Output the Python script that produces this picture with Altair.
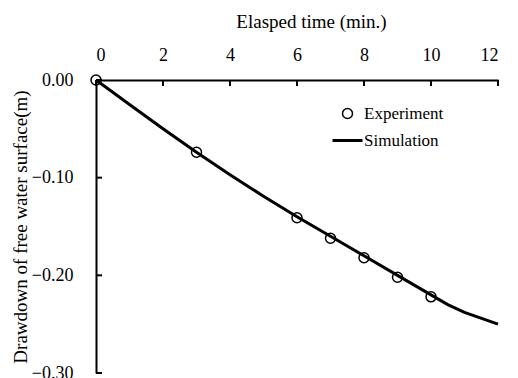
import altair as alt
import pandas as pd

# Experiment data
exp_time = [0, 3, 6, 7, 8, 9, 10]
exp_draw = [0.0, -0.074, -0.141, -0.162, -0.182, -0.202, -0.222]

# Simulation curve
sim_time = [0, 1, 2, 3, 4, 5, 6, 7, 8, 9, 10, 10.5, 11, 12]
sim_draw = [0.0, -0.025, -0.050, -0.074, -0.097, -0.119, -0.140, -0.160,
            -0.180, -0.200, -0.220, -0.230, -0.238, -0.250]

x_ticks = [0, 2, 4, 6, 8, 10, 12]
y_ticks = [0.0, -0.1, -0.2, -0.3]

exp_df = pd.DataFrame({"t": exp_time, "d": exp_draw, "series": ["Experiment"] * len(exp_time)})
sim_df = pd.DataFrame({"t": sim_time, "d": sim_draw, "series": ["Simulation"] * len(sim_time)})
xt_df = pd.DataFrame({"t": x_ticks})
yt_df = pd.DataFrame({"d": y_ticks})

FONT = "Liberation Serif"

X = alt.X("t:Q", scale=alt.Scale(domain=[0, 12], nice=False, zero=False),
          axis=alt.Axis(orient="top", values=x_ticks, format="d", title="Elasped time (min.)",
                        ticks=False, grid=False, labelPadding=16, titlePadding=15,
                        titleX=215))
Y = alt.Y("d:Q", scale=alt.Scale(domain=[-0.3, 0], nice=False, zero=False),
          axis=alt.Axis(orient="left", values=y_ticks, format=".2f",
                        title="Drawdown of free water surface(m)",
                        ticks=False, grid=False, labelPadding=23, titlePadding=1))

points = alt.Chart(exp_df).mark_point(filled=False, size=100, strokeWidth=1.5, color="black",
                                      opacity=1).encode(
    x=X, y=Y,
    shape=alt.Shape("series:N", scale=alt.Scale(domain=["Experiment"], range=["circle"]),
                    legend=alt.Legend(orient="none", legendX=243, legendY=25, title=None,
                                      symbolSize=100, symbolStrokeWidth=1.5, symbolOpacity=1,
                                      symbolStrokeColor="black", symbolFillColor="white",
                                      labelFont=FONT, labelFontSize=17, labelColor="black",
                                      labelOffset=8, padding=0))
)

line = alt.Chart(sim_df).mark_line(strokeWidth=3).encode(
    x=X, y=Y,
    color=alt.Color("series:N", scale=alt.Scale(domain=["Simulation"], range=["black"]),
                    legend=alt.Legend(orient="none", legendX=235, legendY=44, title=None,
                                      symbolType="stroke", symbolSize=900, symbolStrokeWidth=3,
                                      labelFont=FONT, labelFontSize=17, labelColor="black",
                                      labelOffset=0, padding=0))
)

xticks = alt.Chart(xt_df).mark_rule(color="black", strokeWidth=2).encode(
    x=X, y=alt.value(0), y2=alt.value(6))
yticks = alt.Chart(yt_df).mark_rule(color="black", strokeWidth=2).encode(
    y=Y, x=alt.value(0), x2=alt.value(6))

chart = alt.layer(line, points, xticks, yticks).properties(
    width=402, height=293,
    autosize=alt.AutoSizeParams(type="none"),
    padding={"left": 88, "top": 72, "right": 12, "bottom": 5},
    background="white",
).configure_view(stroke=None).configure_axis(
    domainColor="black", domainWidth=2,
    labelFont=FONT, labelFontSize=18, labelColor="black",
    titleFont=FONT, titleFontSize=19, titleFontWeight="normal", titleColor="black",
)

chart.save("out.html", embed_options={"renderer": "svg", "actions": False})
